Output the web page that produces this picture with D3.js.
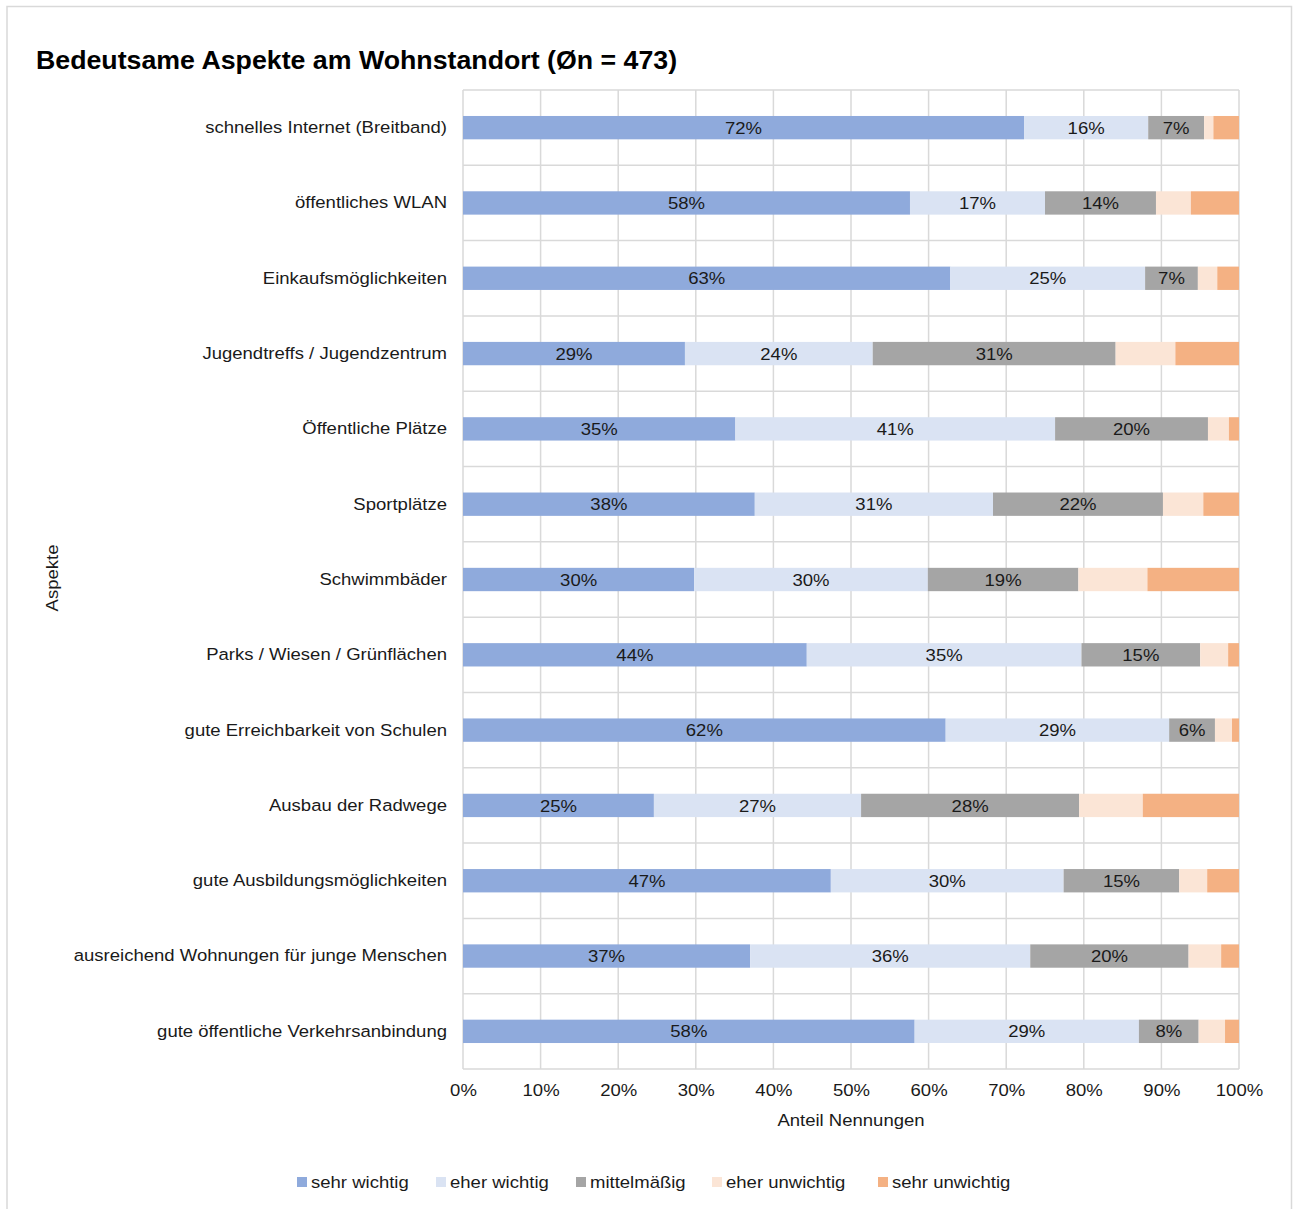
<!DOCTYPE html>
<html><head><meta charset="utf-8">
<script src="https://cdn.jsdelivr.net/npm/d3@7"></script>
<style>body{margin:0;background:#fff;font-family:"Liberation Sans",Arial,sans-serif;}</style>
</head><body>
<svg id="c" width="1293" height="1209"></svg>
<script>
const categories = [
  "schnelles Internet (Breitband)",
  "öffentliches WLAN",
  "Einkaufsmöglichkeiten",
  "Jugendtreffs / Jugendzentrum",
  "Öffentliche Plätze",
  "Sportplätze",
  "Schwimmbäder",
  "Parks / Wiesen / Grünflächen",
  "gute Erreichbarkeit von Schulen",
  "Ausbau der Radwege",
  "gute Ausbildungsmöglichkeiten",
  "ausreichend Wohnungen für junge Menschen",
  "gute öffentliche Verkehrsanbindung"
];
const seriesNames = ["sehr wichtig","eher wichtig","mittelmäßig","eher unwichtig","sehr unwichtig"];
const seriesColors = ["#8faadc","#dae3f3","#a5a5a5","#fbe5d6","#f4b183"];
const sehrWichtig    = [72.3,57.6,62.8,28.6,35.1,37.6,29.8,44.3,62.2,24.6,47.4,37.0,58.2];
const eherWichtig    = [16.0,17.4,25.1,24.2,41.2,30.7,30.1,35.4,28.8,26.7,30.0,36.1,28.9];
const mittelmaessig  = [7.2,14.3,6.8,31.3,19.7,21.9,19.4,15.3,5.9,28.1,14.9,20.4,7.7];
const eherUnwichtig  = [1.2,4.5,2.5,7.7,2.7,5.2,8.9,3.6,2.2,8.2,3.6,4.2,3.4];
const sehrUnwichtig  = [3.3,6.2,2.8,8.2,1.3,4.6,11.8,1.4,0.9,12.4,4.1,2.3,1.8];
const labelledSeries = [0,1,2];
const xTicks = [0,10,20,30,40,50,60,70,80,90,100];
const title = "Bedeutsame Aspekte am Wohnstandort (Øn = 473)";
const xTitle = "Anteil Nennungen";
const yTitle = "Aspekte";

const seriesValues = [sehrWichtig, eherWichtig, mittelmaessig, eherUnwichtig, sehrUnwichtig];
const rows = categories.map((c,i)=>{const o={cat:c}; seriesNames.forEach((s,j)=>o[s]=seriesValues[j][i]); return o;});
const stacked = d3.stack().keys(seriesNames)(rows);

const svg = d3.select("#c");
const font = "'Liberation Sans', Arial, sans-serif";
const pL = 463, pR = 1239, pT = 90, pB = 1069;
const SX = 1.09;

// frame
svg.append("rect").attr("x",7).attr("y",6.5).attr("width",1284.5).attr("height",1220)
  .attr("fill","none").attr("stroke","#d9d9d9").attr("stroke-width",1.5);

const x = d3.scaleLinear().domain([0,100]).range([pL,pR]);
const y = d3.scaleBand().domain(categories).range([pT,pB]).paddingInner(0.69).paddingOuter(0.345);
const yb = d3.scaleBand().domain(categories).range([pT,pB]);

// stretched text helper
function stext(parent, tx, ty, str, size, anchor, sx){
  return parent.append("text").attr("transform",`translate(${tx},${ty}) scale(${sx||SX},1)`)
    .attr("text-anchor",anchor||"start").attr("font-family",font).attr("font-size",size)
    .attr("fill","#1a1a1a").text(str);
}

// gridlines
const g = svg.append("g");
g.selectAll(".vg").data(xTicks).join("line")
  .attr("x1",d=>x(d)).attr("x2",d=>x(d)).attr("y1",pT).attr("y2",pB)
  .attr("stroke","#d9d9d9").attr("stroke-width",1.5);
const hb = categories.map(c=>yb(c)).concat([pB]);
g.selectAll(".hg").data(hb).join("line")
  .attr("x1",pL).attr("x2",pR).attr("y1",d=>d).attr("y2",d=>d)
  .attr("stroke","#d9d9d9").attr("stroke-width",1.5);

// bars
stacked.forEach((s,si)=>{
  svg.append("g").selectAll("rect").data(s).join("rect")
    .attr("x",d=>x(d[0])).attr("width",d=>x(d[1])-x(d[0]))
    .attr("y",d=>y(d.data.cat)).attr("height",y.bandwidth())
    .attr("fill",seriesColors[si]);
});
// labels
stacked.forEach((s,si)=>{
  if(!labelledSeries.includes(si)) return;
  svg.append("g").selectAll("text").data(s).join("text")
    .attr("transform",d=>`translate(${(x(d[0])+x(d[1]))/2},${y(d.data.cat)+y.bandwidth()/2}) scale(${SX},1)`)
    .attr("dy","0.36em").attr("text-anchor","middle")
    .attr("font-family",font).attr("font-size",17).attr("fill","#1a1a1a")
    .text(d=>Math.round(d[1]-d[0])+"%");
});

// y axis labels
const ya = svg.append("g").attr("transform",`translate(${pL},0)`)
  .call(d3.axisLeft(y).tickSize(0).tickPadding(16));
ya.select(".domain").remove();
ya.selectAll("text").attr("font-family",font).attr("font-size",17).attr("fill","#1a1a1a")
  .attr("x",-16/SX).attr("transform",`scale(${SX},1)`);

// x axis labels
const xa = svg.append("g").attr("transform",`translate(0,${pB})`)
  .call(d3.axisBottom(x).tickValues(xTicks).tickSize(0).tickPadding(15).tickFormat(d=>d+"%"));
xa.select(".domain").remove();
xa.selectAll("text").attr("font-family",font).attr("font-size",17).attr("fill","#1a1a1a")
  .attr("transform",`scale(${SX},1)`);

// titles
stext(svg,36,69,title,25,"start",1.07).attr("font-weight","bold").attr("fill","#000");
stext(svg,x(50),1126,xTitle,17,"middle");
svg.append("text").attr("transform",`translate(58,578) rotate(-90) scale(${SX},1)`).attr("text-anchor","middle")
  .attr("font-family",font).attr("font-size",17).attr("fill","#1a1a1a").text(yTitle);

// legend
const legX = [297,436,576,712,878];
const leg = svg.append("g");
seriesNames.forEach((s,i)=>{
  leg.append("rect").attr("x",legX[i]).attr("y",1177).attr("width",10).attr("height",10).attr("fill",seriesColors[i]);
  stext(leg,legX[i]+14,1188,s,17,"start");
});
</script>
</body></html>
